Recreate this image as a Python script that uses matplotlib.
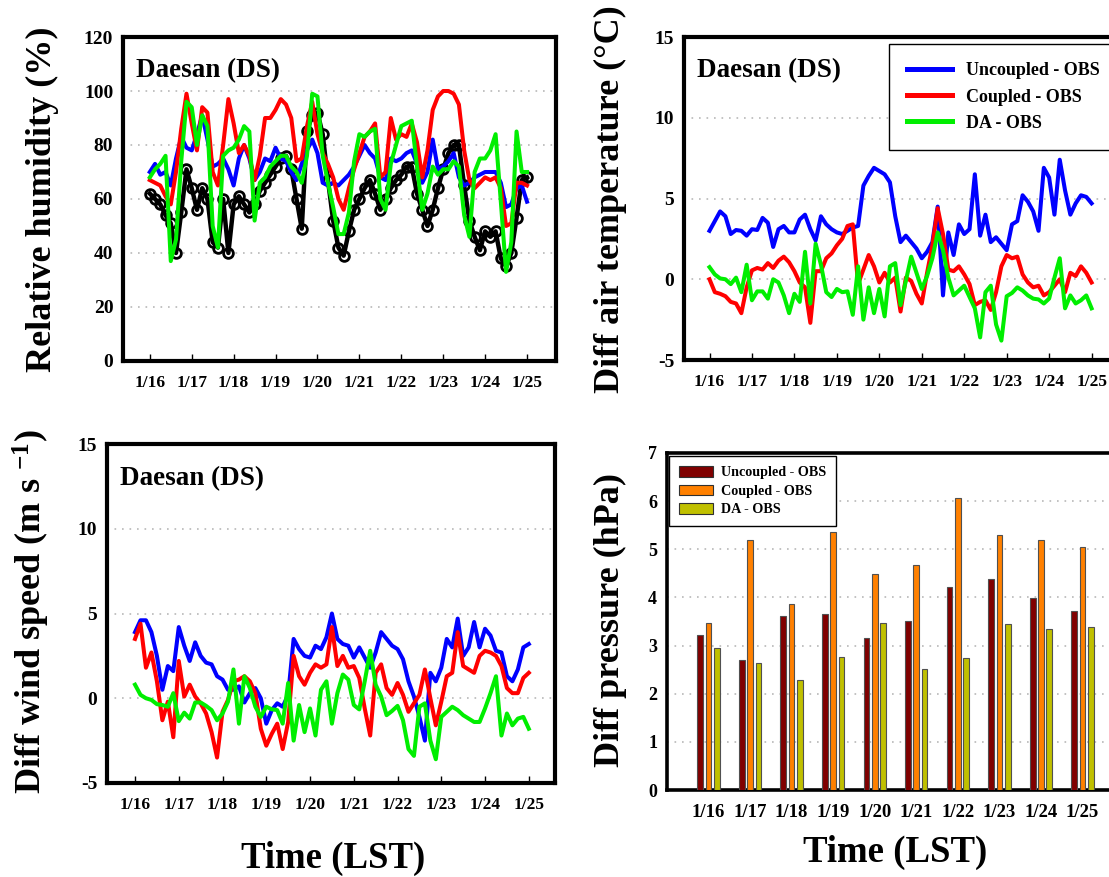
import numpy as np
import matplotlib
matplotlib.use("Agg")
import matplotlib.pyplot as plt
from matplotlib.lines import Line2D
from matplotlib.patches import Patch

plt.rcParams['font.family'] = ['Liberation Serif', 'DejaVu Serif']
plt.rcParams['font.weight'] = 'bold'
plt.rcParams['axes.unicode_minus'] = False
plt.rcParams['mathtext.fontset'] = 'custom'
plt.rcParams['mathtext.rm'] = 'Liberation Serif:bold'
plt.rcParams['mathtext.it'] = 'Liberation Serif:bold'
plt.rcParams['mathtext.bf'] = 'Liberation Serif:bold'

# ---------------- data (3-hourly, 1/16 00LST .. 1/25 00LST) ----------------
day_labels = ['1/16', '1/17', '1/18', '1/19', '1/20', '1/21', '1/22', '1/23', '1/24', '1/25']
station = 'Daesan (DS)'
series_names = ['Uncoupled - OBS', 'Coupled - OBS', 'DA - OBS']

rh_obs = [62, 60, 58, 54, 51, 40, 55, 71,
          64, 56, 64, 60, 44, 42, 60, 40,
          58, 61, 58, 55, 58, 63, 66, 69,
          72, 75, 76, 71, 60, 49, 85, 91,
          92, 84, 67, 52, 42, 39, 48, 56,
          60, 64, 67, 62, 56, 60, 64, 67,
          69, 72, 72, 62, 56, 50, 56, 64,
          71, 77, 80, 80, 65, 52, 46, 41,
          48, 46, 48, 38, 35, 40, 53, 67,
          68]
rh_uncoupled = [70, 73, 69, 70, 65, 75, 83, 79,
                78, 84, 91, 82, 72, 73, 75, 71,
                65, 75, 80, 75, 67, 70, 75, 74,
                79, 75, 74, 70, 67, 73, 78, 82,
                77, 66, 65, 66, 65, 67, 69, 72,
                76, 80, 77, 75, 68, 67, 75, 74,
                75, 77, 78, 73, 66, 70, 82, 71,
                72, 74, 77, 68, 65, 66, 68, 69,
                70, 70, 70, 66, 57, 58, 64, 65,
                59]
rh_coupled = [67, 66, 65, 61, 58, 70, 86, 99,
              88, 78, 94, 92, 70, 65, 80, 97,
              88, 77, 80, 76, 67, 76, 90, 90,
              93, 97, 95, 90, 74, 75, 87, 96,
              84, 77, 73, 68, 60, 56, 64, 71,
              77, 83, 85, 88, 68, 70, 90, 82,
              84, 83, 88, 81, 68, 78, 93, 98,
              100, 100, 99, 95, 78, 67, 64, 66,
              68, 67, 68, 64, 50, 51, 66, 66,
              65]
rh_da = [68, 71, 73, 76, 37, 45, 74, 96,
         94, 80, 91, 87, 50, 42, 76, 78,
         79, 82, 87, 85, 52, 66, 68, 72,
         74, 76, 76, 72, 70, 66, 76, 99,
         98, 76, 66, 57, 47, 47, 55, 74,
         84, 83, 85, 86, 60, 56, 73, 80,
         87, 88, 89, 72, 56, 62, 72, 69,
         71, 71, 74, 72, 54, 46, 70, 75,
         75, 78, 84, 59, 33, 44, 85, 70,
         70]

t_uncoupled = [3.0, 3.6, 4.2, 3.9, 2.8, 3.05, 3.0, 2.7,
               3.1, 3.05, 3.8, 3.5, 2.0, 3.1, 3.3, 2.9,
               2.9, 3.7, 4.0, 3.1, 2.4, 3.9, 3.4, 3.1,
               2.9, 2.8, 3.0, 3.2, 3.3, 5.8, 6.4, 6.9,
               6.7, 6.5, 6.0, 3.9, 2.3, 2.7, 2.3, 1.9,
               1.3, 1.7, 2.3, 4.5, -1.0, 2.9, 1.5, 3.4,
               2.8, 3.1, 6.5, 2.7, 4.0, 2.3, 2.6, 2.2,
               1.8, 3.4, 3.6, 5.2, 4.8, 4.2, 3.0, 6.9,
               6.3, 4.0, 7.4, 5.5, 4.0, 4.7, 5.2, 5.1,
               4.7]
t_coupled = [0.0, -0.8, -0.9, -1.05, -1.4, -1.5, -2.1, -0.5,
             0.55, 0.7, 0.6, 1.0, 0.7, 1.15, 1.4, 1.05,
             0.5, -0.2, -0.5, -2.7, 0.5, 0.5, 1.3, 1.6,
             2.1, 2.5, 3.3, 3.4, -0.3, 0.6, 1.5, 0.8,
             -0.2, 0.4, -0.2, 0.1, -2.0, 0.1, -0.1, -0.9,
             -1.5, 0.4, 2.1, 4.4, 2.8, 0.6, 0.5, 0.8,
             0.3, -0.3, -1.6, -1.4, -1.3, -1.9, -0.8, 0.8,
             1.5, 1.3, 1.4, 0.3, -0.2, -0.5, -0.4, -1.0,
             -0.8, -0.4, 0.0, -0.8, 0.4, 0.2, 0.8, 0.4,
             -0.2]
t_da = [0.75, 0.3, 0.05, 0.0, -0.3, 0.1, -0.8, 0.9,
        -1.3, -0.75, -0.75, -1.2, 0.0, -0.2, -1.0, -2.1,
        -0.9, -1.4, 1.7, -1.5, 2.2, 0.9, -0.8, -1.1,
        -0.6, -0.8, -0.75, -2.2, 0.8, -2.5, -0.5, -2.1,
        -0.6, -2.3, 0.8, 1.0, -1.6, -0.1, 1.4, 0.4,
        -0.6, 0.2, 1.3, 2.9, 1.8, 0.1, -1.0, -0.7,
        -0.4, -1.1, -1.8, -3.6, -0.8, -0.4, -2.8, -3.8,
        -1.05, -0.85, -0.5, -0.7, -1.0, -1.2, -1.25, -1.5,
        -1.2, 0.1, 1.3, -1.8, -1.0, -1.5, -1.3, -1.0,
        -1.8]

w_uncoupled = [3.9, 4.6, 4.6, 3.9, 2.5, 0.5, 1.9, 1.6,
               4.2, 3.1, 2.2, 3.3, 2.5, 2.1, 2.0, 1.3,
               1.1, 0.5, 0.5, 0.7, -0.25, 0.3, 0.6, 0.0,
               -1.5, -0.7, -0.3, -0.5, 0.2, 3.5, 2.9, 2.5,
               2.4, 3.1, 2.9, 3.6, 5.0, 3.5, 3.2, 3.1,
               2.4, 3.0, 2.4, 1.8, 2.7, 3.9, 3.5, 3.1,
               2.9, 2.3, 1.0, 0.1, -1.1, -2.5, 1.5, 1.0,
               1.8, 3.5, 3.0, 4.7, 2.5, 3.0, 4.5, 3.0,
               4.1, 3.7, 2.8, 2.7, 1.3, 1.0, 1.7, 3.0,
               3.2]
w_coupled = [3.5, 4.4, 1.8, 2.7, 1.0, -1.3, -0.2, -2.3,
             2.2, 0.1, 0.8, 0.1, -0.3, -0.9, -2.0, -3.5,
             -0.8, -0.1, 1.0, 1.1, 1.3, 1.0, 0.3, -1.8,
             -2.8, -2.1, -1.5, -3.0, -1.4, 2.5, 1.3, 0.8,
             1.5, 2.0, 1.8, 2.0, 4.2, 1.9, 2.5, 1.8,
             1.9, 1.2, -0.6, -2.2, 1.5, 2.0, 0.6, 0.2,
             0.9, 0.2, -0.8, -0.3, 0.2, 1.7, 0.0, -1.6,
             -0.2, 1.3, 1.5, 3.9, 1.9, 1.7, 1.5, 2.5,
             2.8, 2.7, 2.5, 1.9, 0.6, 0.3, 0.3, 1.2,
             1.5]
w_da = [0.8, 0.2, 0.0, -0.1, -0.35, -0.4, -0.5, 0.3,
        -1.35, -0.85, -1.2, -0.25, -0.25, -0.45, -0.7, -1.3,
        -0.9, -0.2, 1.7, -1.5, 1.3, 0.6, -0.5, -1.1,
        -0.5, -0.65, -0.7, -1.5, 0.9, -2.5, -0.4, -2.0,
        -0.6, -2.2, 0.5, 1.0, -1.5, 0.3, 1.4, 1.1,
        -0.4, -0.66, 1.0, 2.8, 0.8, 0.1, -1.0, -0.75,
        -0.45, -1.3, -3.0, -3.4, -0.5, -0.3, -2.5, -3.6,
        -1.1, -0.8, -0.5, -0.7, -1.0, -1.2, -1.4, -1.4,
        -0.6, 0.3, 1.3, -2.2, -0.9, -1.6, -1.2, -1.1,
        -1.8]

p_uncoupled = [3.21, 2.69, 3.61, 3.65, 3.16, 3.51, 4.22, 4.38, 3.99, 3.72]
p_coupled = [3.46, 5.20, 3.86, 5.36, 4.49, 4.68, 6.07, 5.29, 5.20, 5.04]
p_da = [2.95, 2.64, 2.28, 2.76, 3.46, 2.52, 2.74, 3.44, 3.34, 3.39]

# ---------------- styling ----------------
C_BLUE, C_RED, C_GREEN = '#0000FF', '#FF0000', '#00EE00'
BAR_COLORS = ['#800000', '#FF8000', '#C0C000']
LW = 2.9
t = np.arange(len(rh_obs)) * 3 / 24.0
days = np.arange(len(day_labels))

fig = plt.figure(figsize=(11.09, 8.77), dpi=100)

def style_axes(ax, ylim, yticks, xlim, spine_lw=3.0, xtick_len=5, xfs=12.5):
    ax.set_xlim(*xlim)
    ax.set_ylim(*ylim)
    ax.set_yticks(yticks)
    ax.set_xticks(days)
    ax.set_xticklabels(day_labels)
    for s in ax.spines.values():
        s.set_linewidth(spine_lw)
        s.set_color('black')
    ax.tick_params(axis='y', length=0, pad=7, labelsize=14)
    ax.tick_params(axis='x', direction='in', length=xtick_len, width=1,
                   pad=10, labelsize=xfs)
    ax.yaxis.grid(True, color='#b8b8b8', linestyle=(0, (1, 3.5)), linewidth=1.2)
    ax.set_axisbelow(True)
    for lab in ax.get_xticklabels() + ax.get_yticklabels():
        lab.set_fontweight('bold')

def station_label(ax):
    ax.text(0.03, 0.935, station, transform=ax.transAxes, fontsize=19.5,
            fontweight='bold', va='top', ha='left')

# ---- top-left: relative humidity ----
ax1 = fig.add_axes([0.1109, 0.5884, 0.3904, 0.3694])
ax1.plot(t, rh_obs, color='black', lw=3.2, marker='o', ms=7, mfc='none',
         mec='black', mew=2.0, zorder=2)
ax1.plot(t, rh_uncoupled, color=C_BLUE, lw=LW, zorder=3)
ax1.plot(t, rh_coupled, color=C_RED, lw=LW, zorder=4)
ax1.plot(t, rh_da, color=C_GREEN, lw=LW, zorder=5)
style_axes(ax1, (0, 120), np.arange(0, 121, 20), (-0.64, 9.69))
station_label(ax1)

# ---- top-right: air temperature ----
ax2 = fig.add_axes([0.6168, 0.5895, 0.392, 0.3683])
ax2.plot(t, t_uncoupled, color=C_BLUE, lw=LW, zorder=3)
ax2.plot(t, t_coupled, color=C_RED, lw=LW, zorder=4)
ax2.plot(t, t_da, color=C_GREEN, lw=LW, zorder=5)
style_axes(ax2, (-5, 15), np.arange(-5, 16, 5), (-0.6, 9.64))
station_label(ax2)
leg = ax2.legend([Line2D([], [], color=C_BLUE, lw=3.6),
                  Line2D([], [], color=C_RED, lw=3.6),
                  Line2D([], [], color=C_GREEN, lw=3.6)],
                 series_names, loc='upper left', bbox_to_anchor=(0.471, 0.977),
                 fontsize=13, frameon=True, fancybox=False, framealpha=1,
                 edgecolor='black', borderpad=1.0, handlelength=2.5,
                 handletextpad=0.8, labelspacing=0.5, borderaxespad=0)
leg.get_frame().set_linewidth(1.0)
for tx in leg.get_texts():
    tx.set_fontweight('bold')

# ---- bottom-left: wind speed ----
ax3 = fig.add_axes([0.0965, 0.1072, 0.404, 0.3865])
ax3.plot(t, w_uncoupled, color=C_BLUE, lw=LW, zorder=3)
ax3.plot(t, w_coupled, color=C_RED, lw=LW, zorder=4)
ax3.plot(t, w_da, color=C_GREEN, lw=LW, zorder=5)
style_axes(ax3, (-5, 15), np.arange(-5, 16, 5), (-0.64, 9.6))
station_label(ax3)

# ---- bottom-right: pressure bars ----
ax4 = fig.add_axes([0.6014, 0.0992, 0.404, 0.3843])
bw, off = 0.137, 0.2
for vals, dx, col in zip([p_uncoupled, p_coupled, p_da], [-off, 0, off], BAR_COLORS):
    ax4.bar(days + dx, vals, width=bw, color=col, edgecolor='#505050',
            linewidth=0.8, zorder=3)
style_axes(ax4, (0, 7), np.arange(0, 8, 1), (-1.0, 9.78), spine_lw=2.6,
           xtick_len=0, xfs=13.5)
ax4.tick_params(axis='y', labelsize=13, pad=7)
leg2 = ax4.legend([Patch(facecolor=c, edgecolor='#303030', lw=0.8) for c in BAR_COLORS],
                  series_names, loc='upper left', bbox_to_anchor=(0.005, 0.99),
                  fontsize=10.2, frameon=True, fancybox=False, framealpha=1,
                  edgecolor='black', borderpad=0.7, handlelength=2.4,
                  handleheight=0.75, handletextpad=0.55, labelspacing=0.38,
                  borderaxespad=0)
leg2.get_frame().set_linewidth(1.0)
for tx in leg2.get_texts():
    tx.set_fontweight('bold')

# ---- axis titles ----
fs_lab = 26
fig.text(42 / 1109, 1 - 199 / 877, 'Relative humidity (%)', rotation=90,
         ha='center', va='center', fontsize=fs_lab, fontweight='bold')
fig.text(610 / 1109, 1 - 199 / 877, 'Diff air temperature (\u00b0C)', rotation=90,
         ha='center', va='center', fontsize=fs_lab, fontweight='bold')
fig.text(31 / 1109, 1 - 612 / 877, 'Diff wind speed (m s $^{-1}$)', rotation=90,
         ha='center', va='center', fontsize=fs_lab, fontweight='bold')
fig.text(610 / 1109, 1 - 620 / 877, 'Diff pressure (hPa)', rotation=90,
         ha='center', va='center', fontsize=fs_lab, fontweight='bold')
fig.text(333 / 1109, 1 - 858 / 877, 'Time (LST)', ha='center', va='center',
         fontsize=26.5, fontweight='bold')
fig.text(895 / 1109, 1 - 852 / 877, 'Time (LST)', ha='center', va='center',
         fontsize=26.5, fontweight='bold')

fig.savefig('out.png', dpi=100)
